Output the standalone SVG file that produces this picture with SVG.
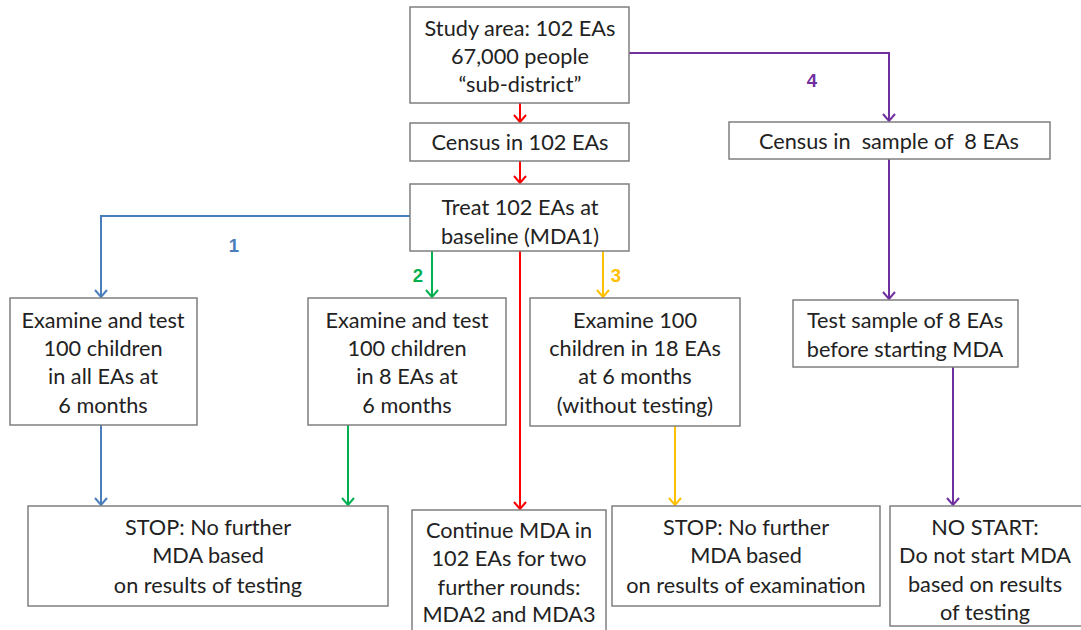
<svg xmlns="http://www.w3.org/2000/svg" width="1081" height="630" viewBox="0 0 1081 630">
<style>
.box{fill:#fff;stroke:#7f7f7f;stroke-width:1.5}
.t{font-family:Lato,"Liberation Sans",sans-serif;font-size:21.7px;fill:#222;text-anchor:middle;white-space:pre}
.n{font-family:"Liberation Sans",Arial,sans-serif;font-size:18.5px;font-weight:bold;text-anchor:middle}
.c{fill:none;stroke-width:2}
</style>
<defs>
<marker id="aR" markerWidth="14" markerHeight="14" refX="7" refY="12" markerUnits="userSpaceOnUse" viewBox="0 0 14 14"><path d="M1,5 L7,12 L13,5" fill="none" stroke="#ff0000" stroke-width="2"/></marker>
<marker id="aB" markerWidth="14" markerHeight="14" refX="7" refY="12" markerUnits="userSpaceOnUse" viewBox="0 0 14 14"><path d="M1,5 L7,12 L13,5" fill="none" stroke="#4a7ebb" stroke-width="2"/></marker>
<marker id="aG" markerWidth="14" markerHeight="14" refX="7" refY="12" markerUnits="userSpaceOnUse" viewBox="0 0 14 14"><path d="M1,5 L7,12 L13,5" fill="none" stroke="#00b050" stroke-width="2"/></marker>
<marker id="aY" markerWidth="14" markerHeight="14" refX="7" refY="12" markerUnits="userSpaceOnUse" viewBox="0 0 14 14"><path d="M1,5 L7,12 L13,5" fill="none" stroke="#ffc000" stroke-width="2"/></marker>
<marker id="aP" markerWidth="14" markerHeight="14" refX="7" refY="12" markerUnits="userSpaceOnUse" viewBox="0 0 14 14"><path d="M1,5 L7,12 L13,5" fill="none" stroke="#7030a0" stroke-width="2"/></marker>
</defs>
<rect width="1081" height="630" fill="#fff"/>
<g id="connectors">
<path class="c" stroke="#ff0000" d="M520,103 V122" marker-end="url(#aR)"/>
<path class="c" stroke="#ff0000" d="M520,161 V183" marker-end="url(#aR)"/>
<path class="c" stroke="#ff0000" d="M520,251 V509" marker-end="url(#aR)"/>
<path class="c" stroke="#4a7ebb" d="M410,216 H101 V297" marker-end="url(#aB)"/>
<path class="c" stroke="#4a7ebb" d="M101,425 V505" marker-end="url(#aB)"/>
<path class="c" stroke="#00b050" d="M432,251 V297" marker-end="url(#aG)"/>
<path class="c" stroke="#00b050" d="M348,425 V505" marker-end="url(#aG)"/>
<path class="c" stroke="#ffc000" d="M603,251 V297" marker-end="url(#aY)"/>
<path class="c" stroke="#ffc000" d="M675,426 V505" marker-end="url(#aY)"/>
<path class="c" stroke="#7030a0" d="M629,53 H889 V121" marker-end="url(#aP)"/>
<path class="c" stroke="#7030a0" d="M889,159 V299" marker-end="url(#aP)"/>
<path class="c" stroke="#7030a0" d="M953,367 V505" marker-end="url(#aP)"/>
<text class="n" x="234" y="252" fill="#4a7ebb">1</text>
<text class="n" x="418" y="282" fill="#00b050">2</text>
<text class="n" x="616" y="282" fill="#ffc000">3</text>
<text class="n" x="812" y="87" fill="#7030a0">4</text>
</g>
<g id="study">
<rect class="box" x="410" y="7" width="219" height="96"/>
<text class="t" x="520" y="36">Study area: 102 EAs</text>
<text class="t" x="520" y="64">67,000 people</text>
<text class="t" x="520" y="92">“sub-district”</text>
</g>
<g id="census">
<rect class="box" x="410" y="123" width="219" height="38"/>
<text class="t" x="520" y="150">Census in 102 EAs</text>
</g>
<g id="treat">
<rect class="box" x="410" y="184" width="219" height="67"/>
<text class="t" x="520" y="215">Treat 102 EAs at</text>
<text class="t" x="520" y="244">baseline (MDA1)</text>
</g>
<g id="censusSample">
<rect class="box" x="729" y="122" width="321" height="37"/>
<text class="t" x="889" y="149">Census in  sample of  8 EAs</text>
</g>
<g id="exam1">
<rect class="box" x="10" y="298" width="187" height="127"/>
<text class="t" x="103" y="328">Examine and test</text>
<text class="t" x="103" y="356">100 children</text>
<text class="t" x="103" y="384">in all EAs at</text>
<text class="t" x="103" y="413">6 months</text>
</g>
<g id="exam2">
<rect class="box" x="308" y="298" width="198" height="127"/>
<text class="t" x="407" y="328">Examine and test</text>
<text class="t" x="407" y="356">100 children</text>
<text class="t" x="407" y="384">in 8 EAs at</text>
<text class="t" x="407" y="413">6 months</text>
</g>
<g id="exam3">
<rect class="box" x="530" y="298" width="210" height="128"/>
<text class="t" x="635" y="328">Examine 100</text>
<text class="t" x="635" y="356">children in 18 EAs</text>
<text class="t" x="635" y="384">at 6 months</text>
<text class="t" x="635" y="413">(without testing)</text>
</g>
<g id="testSample">
<rect class="box" x="793" y="300" width="225" height="67"/>
<text class="t" x="905" y="328">Test sample of 8 EAs</text>
<text class="t" x="905" y="357">before starting MDA</text>
</g>
<g id="stop1">
<rect class="box" x="28" y="506" width="360" height="100"/>
<text class="t" x="208" y="535">STOP: No further</text>
<text class="t" x="208" y="563">MDA based</text>
<text class="t" x="208" y="593">on results of testing</text>
</g>
<g id="continue">
<rect class="box" x="412" y="510" width="194" height="125"/>
<text class="t" x="509" y="538">Continue MDA in</text>
<text class="t" x="509" y="566">102 EAs for two</text>
<text class="t" x="509" y="595">further rounds:</text>
<text class="t" x="509" y="622">MDA2 and MDA3</text>
</g>
<g id="stop2">
<rect class="box" x="612" y="506" width="268" height="100"/>
<text class="t" x="746" y="535">STOP: No further</text>
<text class="t" x="746" y="563">MDA based</text>
<text class="t" x="746" y="593">on results of examination</text>
</g>
<g id="nostart">
<rect class="box" x="890" y="506" width="195" height="120"/>
<text class="t" x="985" y="535">NO START:</text>
<text class="t" x="985" y="563">Do not start MDA</text>
<text class="t" x="985" y="592">based on results</text>
<text class="t" x="985" y="620">of testing</text>
</g>
</svg>
